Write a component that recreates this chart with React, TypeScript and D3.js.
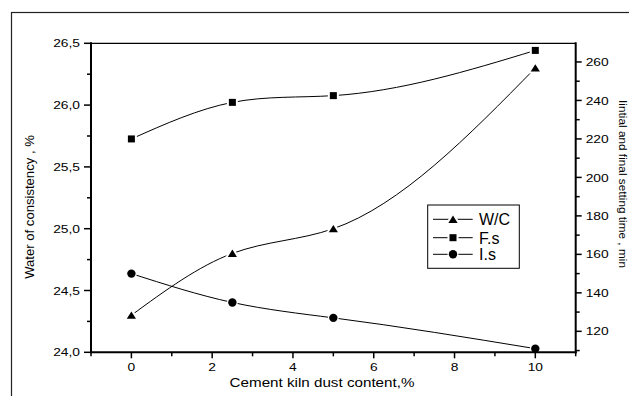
import React from "react";
import { scaleLinear, path as d3path, range } from "d3";

// cement kiln dust content, %
const dust = [0, 2.5, 5, 10];
// water of consistency, % (left axis)
const waterConsistency = [24.3, 24.8, 25.0, 26.3];
// final / initial setting time, min (right axis)
const finalSetting = [220, 239, 242.5, 266];
const initialSetting = [150, 135, 127, 111];

const xTicks = [0, 2, 4, 6, 8, 10];
const leftTicks = [24, 24.5, 25, 25.5, 26, 26.5];
const rightTicks = [120, 140, 160, 180, 200, 220, 240, 260];

const W = 629;
const H = 396;
const LEFT = 91;
const RIGHT = 575.7;
const TOP = 43.3;
const BOTTOM = 352.3;
const FONT = "'Liberation Sans', Arial, sans-serif";

const x = scaleLinear().domain([-1, 11]).range([LEFT, RIGHT]);
const yL = scaleLinear().domain([24, 26.5]).range([BOTTOM, TOP]);
const yR = scaleLinear().domain([109.1, 269.7]).range([BOTTOM, TOP]);

// natural cubic spline y(x) -> slopes at the knots (like Origin's spline line)
function splineSlopes(xs: number[], ys: number[]) {
  const n = xs.length;
  const h = range(n - 1).map((i) => xs[i + 1] - xs[i]);
  const s = range(n - 1).map((i) => (ys[i + 1] - ys[i]) / h[i]);
  // solve tridiagonal for second derivatives M (M0 = Mn-1 = 0)
  const M = new Array(n).fill(0);
  const a: number[] = [], b: number[] = [], c: number[] = [], d: number[] = [];
  for (let i = 1; i < n - 1; i++) {
    a.push(h[i - 1]);
    b.push(2 * (h[i - 1] + h[i]));
    c.push(h[i]);
    d.push(6 * (s[i] - s[i - 1]));
  }
  const m = b.length;
  for (let i = 1; i < m; i++) {
    const w = a[i] / b[i - 1];
    b[i] -= w * c[i - 1];
    d[i] -= w * d[i - 1];
  }
  for (let i = m - 1; i >= 0; i--) {
    M[i + 1] = (d[i] - (i < m - 1 ? c[i] * M[i + 2] : 0)) / b[i];
  }
  return xs.map((_, i) =>
    i < n - 1
      ? s[i] - (h[i] * (2 * M[i] + M[i + 1])) / 6
      : s[n - 2] + (h[n - 2] * (M[n - 2] + 2 * M[n - 1])) / 6
  );
}

function splinePath(xs: number[], ys: number[], y: (v: number) => number) {
  const k = splineSlopes(xs, ys);
  const p = d3path();
  p.moveTo(x(xs[0]), y(ys[0]));
  for (let i = 0; i < xs.length - 1; i++) {
    const h = (xs[i + 1] - xs[i]) / 3;
    p.bezierCurveTo(
      x(xs[i] + h), y(ys[i] + h * k[i]),
      x(xs[i + 1] - h), y(ys[i + 1] - h * k[i + 1]),
      x(xs[i + 1]), y(ys[i + 1])
    );
  }
  return p.toString();
}

type Kind = "tri" | "sq" | "dot";

const Marker = ({ cx, cy, kind }: { cx: number; cy: number; kind: Kind }) => {
  const common = {
    fill: "#000",
    stroke: "#fff",
    strokeWidth: 4,
    style: { paintOrder: "stroke" } as React.CSSProperties,
  };
  if (kind === "tri")
    return (
      <path
        d={`M${cx},${cy - 3.8}L${cx + 4.6},${cy + 3.6}L${cx - 4.6},${cy + 3.6}Z`}
        {...common}
      />
    );
  if (kind === "sq")
    return <rect x={cx - 3.5} y={cy - 3.5} width={7} height={7} {...common} />;
  return <circle cx={cx} cy={cy} r={4.2} {...common} strokeWidth={2.5} />;
};

const series: { name: string; vals: number[]; y: any; kind: Kind }[] = [
  { name: "W/C", vals: waterConsistency, y: yL, kind: "tri" },
  { name: "F.s", vals: finalSetting, y: yR, kind: "sq" },
  { name: "I.s", vals: initialSetting, y: yR, kind: "dot" },
];

const fmt = (v: number) => v.toFixed(1).replace(".", ",");

const App = () => {
  const leftMinor = range(24.25, 26.5, 0.5);
  const rightMinor = range(110, 270, 20);
  const xMinor = [-1, 1, 3, 5, 7, 9, 11];

  return (
    <svg
      width={W}
      height={H}
      style={{ position: "absolute", left: 0, top: 0, background: "#fff" }}
      fontFamily={FONT}
    >
      <rect x={0} y={0} width={W} height={H} fill="#fff" />
      {/* outer frame */}
      <rect x={11.5} y={12.5} width={700} height={500} fill="none" stroke="#222" strokeWidth={1.2} />

      {/* curves */}
      {series.map((s) => (
        <path key={s.name} d={splinePath(dust, s.vals, s.y)} fill="none" stroke="#000" strokeWidth={1} />
      ))}
      {series.map((s) =>
        s.vals.map((v, i) => <Marker key={s.name + i} cx={x(dust[i])} cy={s.y(v)} kind={s.kind} />)
      )}

      {/* axes frame */}
      <line x1={LEFT} x2={RIGHT} y1={TOP} y2={TOP} stroke="#000" strokeWidth={1.2} />
      <line x1={LEFT} x2={LEFT} y1={TOP - 1} y2={BOTTOM + 1} stroke="#000" strokeWidth={2} />
      <line x1={RIGHT} x2={RIGHT} y1={TOP - 1} y2={BOTTOM + 1} stroke="#000" strokeWidth={2} />
      <line x1={LEFT - 1} x2={RIGHT + 1} y1={BOTTOM} y2={BOTTOM} stroke="#000" strokeWidth={2} />

      {/* left axis */}
      {leftTicks.map((t) => (
        <g key={"l" + t}>
          <line x1={LEFT - 7} x2={LEFT} y1={yL(t)} y2={yL(t)} stroke="#000" strokeWidth={1.5} />
          <text
            transform={`translate(80,${yL(t) + 4.1}) scale(1.19,1)`}
            textAnchor="end"
            fontSize={11.6}
          >
            {fmt(t)}
          </text>
        </g>
      ))}
      {leftMinor.map((t) => (
        <line key={"lm" + t} x1={LEFT - 4} x2={LEFT} y1={yL(t)} y2={yL(t)} stroke="#000" strokeWidth={1.5} />
      ))}

      {/* right axis */}
      {rightTicks.map((t) => (
        <g key={"r" + t}>
          <line x1={RIGHT} x2={RIGHT + 6} y1={yR(t)} y2={yR(t)} stroke="#000" strokeWidth={1.5} />
          <text
            transform={`translate(585.7,${yR(t) + 4.1}) scale(1.19,1)`}
            textAnchor="start"
            fontSize={11.6}
          >
            {t}
          </text>
        </g>
      ))}
      {rightMinor.map((t) => (
        <line key={"rm" + t} x1={RIGHT} x2={RIGHT + 4} y1={yR(t)} y2={yR(t)} stroke="#000" strokeWidth={1.5} />
      ))}

      {/* bottom axis */}
      {xTicks.map((t) => (
        <g key={"x" + t}>
          <line x1={x(t)} x2={x(t)} y1={BOTTOM} y2={BOTTOM + 6} stroke="#000" strokeWidth={1.5} />
          <text
            transform={`translate(${x(t)},371) scale(1.19,1)`}
            textAnchor="middle"
            fontSize={11.6}
          >
            {t}
          </text>
        </g>
      ))}
      {xMinor.map((t) => (
        <line key={"xm" + t} x1={x(t)} x2={x(t)} y1={BOTTOM} y2={BOTTOM + 4} stroke="#000" strokeWidth={1.5} />
      ))}

      {/* axis titles */}
      <text transform="translate(322,387) scale(1.126,1)" textAnchor="middle" fontSize={13.5}>
        Cement kiln dust content,%
      </text>
      <text transform="translate(34.3,207) rotate(-90)" textAnchor="middle" fontSize={13.1}>
        Water of consistency , %
      </text>
      <text transform="translate(618.8,184) rotate(90)" textAnchor="middle" fontSize={11.8}>
        Iintial and final setting time , min
      </text>

      {/* legend */}
      <rect x={427.7} y={205} width={91.6} height={63.3} fill="#fff" stroke="#000" strokeWidth={1} />
      {series.map((s, i) => {
        const ly = [219.3, 237.7, 254.3][i];
        return (
          <g key={"lg" + s.name}>
            <line x1={433} x2={472.7} y1={ly} y2={ly} stroke="#000" strokeWidth={1} />
            <Marker cx={453} cy={ly} kind={s.kind} />
            <text x={479} y={ly + 5.8} fontSize={16}>
              {s.name}
            </text>
          </g>
        );
      })}
    </svg>
  );
};

export default App;
